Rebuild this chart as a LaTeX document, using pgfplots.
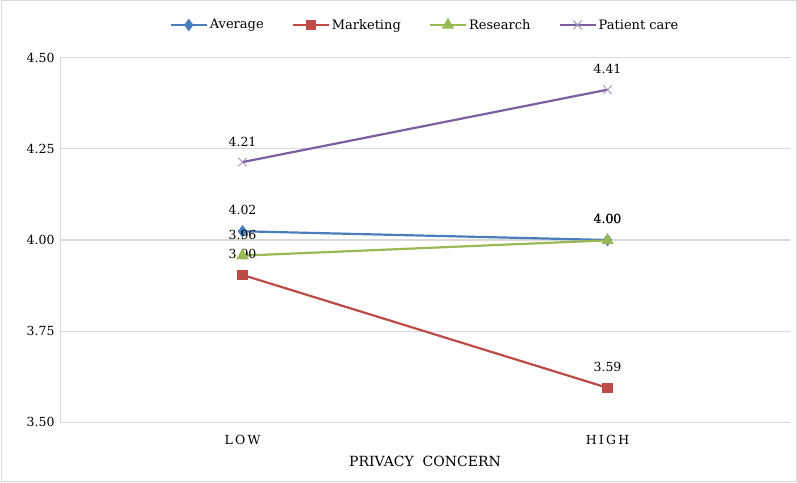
\documentclass[border=0pt]{standalone}
\usepackage{fontspec}
\setmainfont{DejaVu Serif}
\usepackage{pgfplots}
\pgfplotsset{compat=1.18}
\definecolor{cavg}{HTML}{4A7EBB}
\definecolor{cmkt}{HTML}{BE4B48}
\definecolor{cres}{HTML}{98B954}
\definecolor{cpat}{HTML}{7D5FA0}
\definecolor{gridc}{HTML}{D9D9D9}
\begin{document}
\begin{tikzpicture}[x=1pt,y=1pt]
\path[use as bounding box] (0,0) rectangle (797,482);
\draw[gridc,line width=1pt] (1,1) rectangle (796,481);
\begin{axis}[
  at={(60pt,60pt)}, anchor=south west,
  scale only axis, width=730pt, height=364pt,
  xmin=-0.5, xmax=1.5, ymin=3.5, ymax=4.5,
  xtick={0,1}, xticklabels={{\addfontfeature{LetterSpace=18}LOW},{\addfontfeature{LetterSpace=18}HIGH}},
  ytick={3.5,3.75,4,4.25,4.5},
  yticklabel style={/pgf/number format/fixed, /pgf/number format/fixed zerofill, /pgf/number format/precision=2, xshift=-2pt},
  /pgf/number format/assume math mode=true,
  tick label style={font=\fontsize{12.5}{14}\selectfont, black},
  xticklabel style={yshift=-10pt},
  xlabel={PRIVACY\ \ CONCERN},
  xlabel style={font=\fontsize{14}{16}\selectfont, yshift=-4pt},
  axis x line*=bottom, axis y line*=left,
  axis line style={gridc, line width=1pt},
  ymajorgrids, grid style={gridc, line width=1pt},
  major tick length=0pt,
  ytick style={draw=none},
  xtick style={draw=none},
  clip=false,
  legend columns=4,
  legend style={at={(0.5,1.0907)}, anchor=center, draw=none, fill=none,
    font=\fontsize{13}{15}\selectfont, /tikz/every even column/.append style={column sep=26pt}},
  legend image code/.code={\draw[#1] (0pt,0pt) -- (36pt,0pt); \draw[#1,only marks] plot coordinates {(18pt,0pt)};},
  every node near coord/.append style={font=\fontsize{12.5}{14}\selectfont, black, yshift=12pt},
  nodes near coords={\pgfmathprintnumber[fixed,fixed zerofill,precision=2,assume math mode=true]{\pgfplotspointmeta}},
]
\addplot[cavg, line width=2.2pt, mark=diamond*, mark size=4.5pt, mark options={solid}] coordinates {(0,4.024) (1,4.00)};
\addlegendentry{Average}
\addplot[cmkt, line width=2.2pt, mark=square*, mark size=4pt] coordinates {(0,3.904) (1,3.594)};
\addlegendentry{Marketing}
\addplot[cres, line width=2.2pt, mark=triangle*, mark size=5pt] coordinates {(0,3.957) (1,3.999)};
\addlegendentry{Research}
\addplot[cpat, line width=2.2pt, mark=x, mark size=6pt, mark options={line width=0.9pt, cpat!70}] coordinates {(0,4.214) (1,4.413)};
\addlegendentry{Patient care}
\end{axis}
\end{tikzpicture}
\end{document}
